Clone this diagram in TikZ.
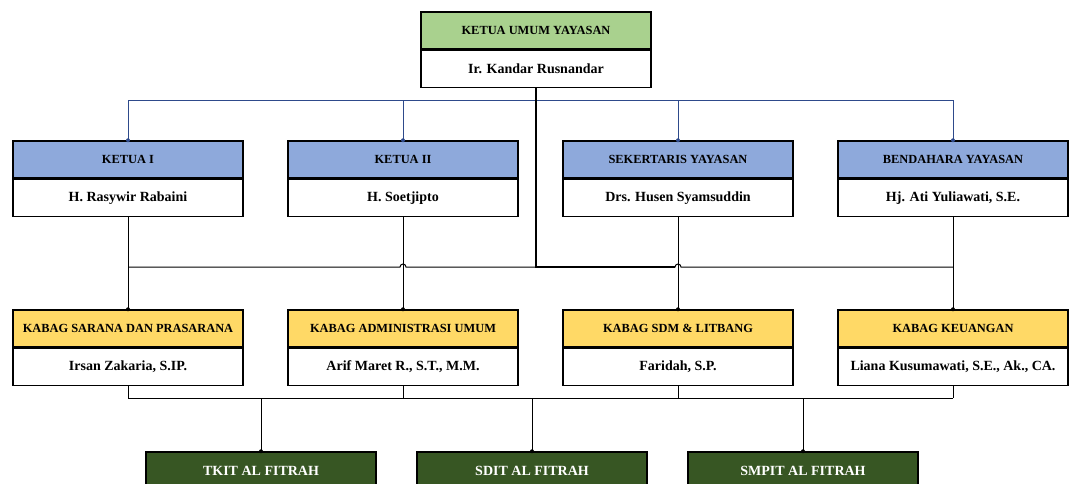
\documentclass[tikz,border=0pt]{standalone}
\usepackage{fontspec}
\setmainfont{Liberation Serif}
\definecolor{hgreen}{HTML}{A9D18E}
\definecolor{hblue}{HTML}{8EA9DB}
\definecolor{hyellow}{HTML}{FFD966}
\definecolor{dgreen}{HTML}{375623}
\definecolor{lblue}{HTML}{2E4A8B}
\begin{document}
\begin{tikzpicture}[x=1pt,y=-1pt,
  hdr/.style={draw=black, line width=1.5pt, minimum width=230pt, minimum height=37pt, inner sep=0pt, font=\bfseries\fontsize{12.4}{14}\selectfont},
  nm/.style={draw=black, line width=1.5pt, minimum width=230pt, minimum height=37pt, fill=white, inner sep=0pt, font=\bfseries\fontsize{14}{16}\selectfont},
  unit/.style={draw=black, line width=1.5pt, minimum width=230pt, minimum height=38pt, fill=dgreen, text=white, inner sep=0pt, font=\bfseries\fontsize{14}{16}\selectfont},
  conn/.style={line width=1pt, black},
  tconn/.style={line width=1.6pt, black},
  bconn/.style={line width=1pt, lblue},
  tipdot/.style={circle, fill=#1, inner sep=0pt, minimum size=4pt}
]
\useasboundingbox (0,0) rectangle (1070,483);
\clip (0,0) rectangle (1070,483);

% top
\node[hdr, fill=hgreen] (k0h) at (536,30.5) {KETUA UMUM YAYASAN};
\node[nm, anchor=north] (k0n) at (k0h.south) {Ir. Kandar Rusnandar};

% level 2
\foreach \n/\x/\t/\p in {k1/128/KETUA I/H. Rasywir Rabaini,
                         k2/403/KETUA II/H. Soetjipto,
                         k3/678/SEKERTARIS YAYASAN/Drs. Husen Syamsuddin,
                         k4/953/BENDAHARA YAYASAN/{Hj. Ati Yuliawati, S.E.}}{
  \node[hdr, fill=hblue] (\n h) at (\x,159.5) {\t};
  \node[nm, anchor=north] (\n n) at (\n h.south) {\p};
}

% level 3
\foreach \n/\x/\t/\p in {m1/128/KABAG SARANA DAN PRASARANA/{Irsan Zakaria, S.IP.},
                         m2/403/KABAG ADMINISTRASI UMUM/{Arif Maret R., S.T., M.M.},
                         m3/678/KABAG SDM \& LITBANG/{Faridah, S.P.},
                         m4/953/KABAG KEUANGAN/{Liana Kusumawati, S.E., Ak., CA.}}{
  \node[hdr, fill=hyellow] (\n h) at (\x,328.5) {\t};
  \node[nm, anchor=north] (\n n) at (\n h.south) {\p};
}

% units
\node[unit] (u1) at (261,471) {TKIT AL FITRAH};
\node[unit] (u2) at (532,471) {SDIT AL FITRAH};
\node[unit] (u3) at (803,471) {SMPIT AL FITRAH};

% bus coordinates
\coordinate (b1) at (536,100);
\coordinate (b2) at (536,267);
\coordinate (b3) at (536,398);

% blue bus to level 2
\draw[bconn] (k1h.north |- b1) -- (k4h.north |- b1);
\foreach \n in {k1,k2,k3,k4}{
  \draw[bconn] (\n h.north |- b1) -- (\n h.north);
  \node[tipdot=lblue] at (\n h.north) {};
}

% level 2 to level 3
\draw[conn] (k1n.south |- b2) -- ([xshift=-3pt]k2n.south |- b2)
  arc[start angle=180, end angle=0, radius=3pt]
  -- ([xshift=-3pt]k3n.south |- b2)
  arc[start angle=180, end angle=0, radius=3pt]
  -- (k4n.south |- b2);
\foreach \a/\b in {k1/m1,k2/m2,k3/m3,k4/m4}{
  \draw[conn] (\a n.south) -- (\b h.north);
  \node[tipdot=black] at (\b h.north) {};
}
\draw[tconn] (k0n.south) |- ([xshift=-3pt]k3n.south |- b2);

% level 3 to units
\foreach \n in {m1,m2,m3,m4}{
  \draw[conn] (\n n.south) -- (\n n.south |- b3);
}
\draw[conn] (m1n.south |- b3) -- (m4n.south |- b3);
\foreach \u in {u1,u2,u3}{
  \draw[conn] (\u.north |- b3) -- (\u.north);
  \node[tipdot=black] at (\u.north) {};
}
\end{tikzpicture}
\end{document}
